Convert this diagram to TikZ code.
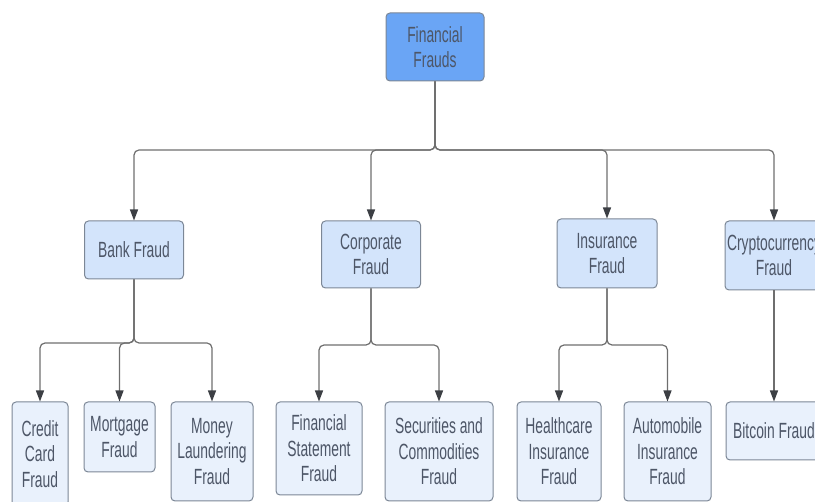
\documentclass[tikz,border=0pt]{standalone}
\usepackage{fontspec}
\setmainfont[FakeStretch=0.63]{Liberation Sans}
\usetikzlibrary{arrows.meta,positioning}

\definecolor{rootblue}{HTML}{6AA5F5}
\definecolor{midblue}{HTML}{D3E4FB}
\definecolor{leafblue}{HTML}{E9F1FC}
\definecolor{edgegray}{HTML}{6E6E6E}
\definecolor{tipgray}{HTML}{3C3F44}
\definecolor{boxline}{HTML}{7C8796}
\definecolor{inkgray}{HTML}{4D5667}

\begin{document}
\begin{tikzpicture}[x=1pt, y=-1pt,
        box/.style={draw=boxline, line width=1pt, rounded corners=4pt, align=center,
            text=inkgray, inner sep=2pt, font=\fontsize{22}{25.5}\selectfont},
        rootbox/.style={box, fill=rootblue},
        midbox/.style={box, fill=midblue},
        leafbox/.style={box, fill=leafblue},
        link/.style={draw=edgegray, line width=1.2pt, rounded corners=5pt,
            -{Triangle[length=11pt, width=8pt, color=tipgray]}}]
    \clip (0,0) rectangle (815,502);

    % top of the tree
    \node[rootbox, minimum width=98pt, minimum height=68pt] (root) at (435,47) {Financial\\Frauds};

    % fraud categories
    \node[midbox, minimum width=99pt, minimum height=58pt] (bank) at (134,250) {Bank Fraud};
    \node[midbox, minimum width=99pt, minimum height=67pt] (corp) at (371,254.5) {Corporate\\Fraud};
    \node[midbox, minimum width=100pt, minimum height=69pt] (insur) at (607,253.5) {Insurance\\Fraud};
    \node[midbox, minimum width=96pt, minimum height=69pt] (crypto) at (774,255.5) {Cryptocurrency\\Fraud};

    % kinds of fraud
    \node[leafbox, minimum width=56pt, minimum height=104pt] (credit) at (40,454) {Credit\\Card\\Fraud};
    \node[leafbox, minimum width=71pt, minimum height=70pt] (mortg) at (119.5,437) {Mortgage\\Fraud};
    \node[leafbox, minimum width=82pt, minimum height=99pt] (money) at (212,451.5) {Money\\Laundering\\Fraud};
    \node[leafbox, minimum width=86pt, minimum height=93pt] (stmt) at (319,448.5) {Financial\\Statement\\Fraud};
    \node[leafbox, minimum width=108pt, minimum height=99pt] (secur) at (439,451.5) {Securities and\\Commodities\\Fraud};
    \node[leafbox, minimum width=84pt, minimum height=99pt] (health) at (559,451.5) {Healthcare\\Insurance\\Fraud};
    \node[leafbox, minimum width=87pt, minimum height=99pt] (auto) at (667.5,451.5) {Automobile\\Insurance\\Fraud};
    \node[leafbox, minimum width=96pt, minimum height=58pt] (bitcoin) at (774,431) {Bitcoin Fraud};

    % branching points
    \coordinate (hubtop) at (435,150);
    \coordinate (hubbank) at (134,343);
    \coordinate (hubcorp) at (371,345);
    \coordinate (hubinsur) at (607,345);

    \foreach \kid in {bank,corp,insur,crypto}
        \draw[link] (root.south) -- (hubtop) -| (\kid.north);
    \foreach \kid in {credit,mortg,money}
        \draw[link] (bank.south) -- (hubbank) -| (\kid.north);
    \foreach \kid in {stmt,secur}
        \draw[link] (corp.south) -- (hubcorp) -| (\kid.north);
    \foreach \kid in {health,auto}
        \draw[link] (insur.south) -- (hubinsur) -| (\kid.north);
    \draw[link] (crypto.south) -- (bitcoin.north);
\end{tikzpicture}
\end{document}
